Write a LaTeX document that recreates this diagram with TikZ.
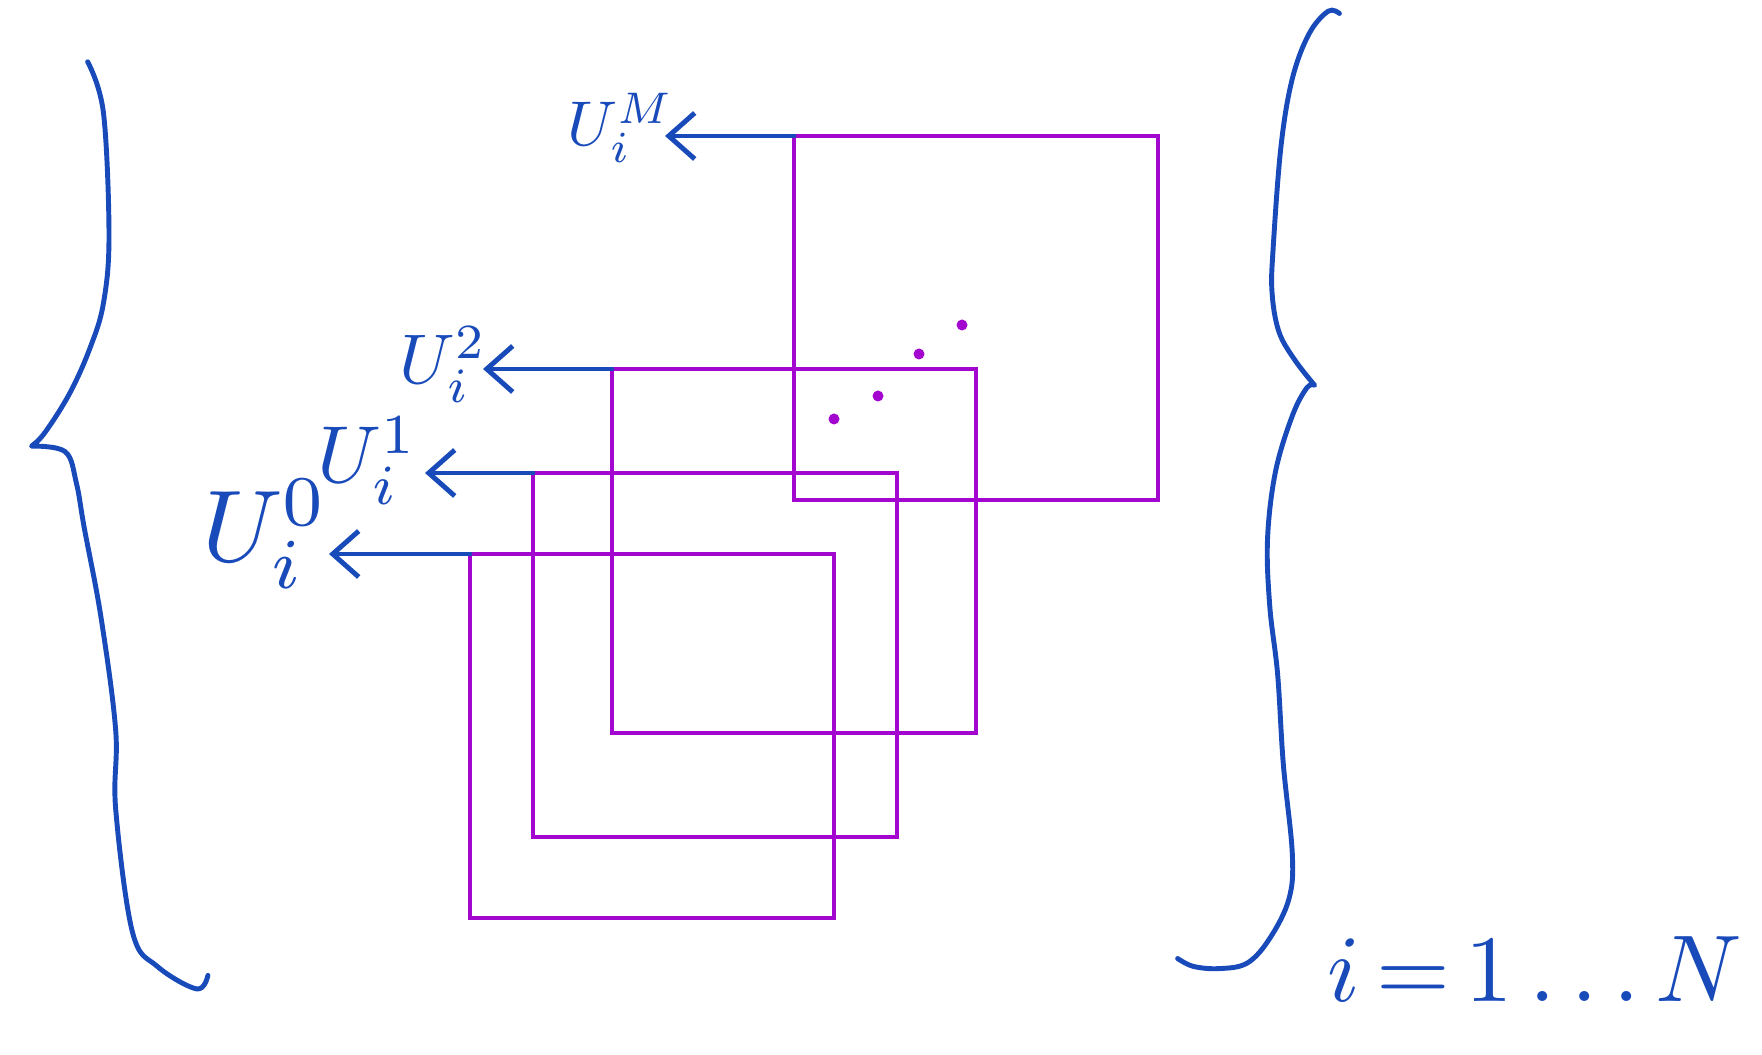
\documentclass[tikz,border=0pt]{standalone}
\usetikzlibrary{arrows.meta}
\definecolor{handblue}{RGB}{24,74,186}
\definecolor{handpurple}{RGB}{163,6,206}
\tikzset{
    sq/.style={draw=handpurple, line width=1.3pt, minimum size=3.64cm, inner sep=0pt, outer sep=0pt, anchor=north west},
    lbl/.style={text=handblue, inner sep=0pt, anchor=base west},
    arr/.style={handblue, line width=1.4pt, line cap=round, -{Straight Barb[length=2.6mm,width=4.6mm]}},
    brace/.style={handblue, line width=1.4pt, line cap=round, line join=round},
}
\begin{document}
\begin{tikzpicture}
    \useasboundingbox (0,0) rectangle (17.62,10.54);
    % the four windows, oldest at the bottom
    \foreach \n/\x/\y in {0/4.70/5.00, 1/5.33/5.81, 2/6.12/6.85, M/7.94/9.18} {
        \node[sq] (s\n) at (\x,\y) {};
    }
    % labels and arrows
    \foreach \n/\lx/\ly/\tx/\sc in {0/2.00/4.92/3.29/2.9, 1/3.16/5.71/4.25/2.3, 2/3.98/6.70/4.83/2.0, M/5.66/9.08/6.65/1.8} {
        \node[lbl, scale=\sc] (l\n) at (\lx,\ly) {$U_i^{\n}$};
        \coordinate (t\n) at (\tx,0 |- s\n.north west);
        \draw[arr] (s\n.north west) -- (t\n);
    }
    % dots between the windows
    \foreach \px/\py in {8.34/6.35, 8.78/6.58, 9.19/7.00, 9.62/7.29} {
        \fill[handpurple] (\px,\py) circle (0.055cm);
    }
    % left brace
    \draw[brace] plot[smooth, tension=0.6] coordinates {(0.876,9.922) (1.034,9.416) (1.090,8.180) (1.034,7.506) (0.899,7.057) (0.697,6.607) (0.449,6.214) (0.315,6.079)}
        -- plot[smooth, tension=0.6] coordinates {(0.315,6.079) (0.652,6.023) (0.764,5.708) (0.843,5.259) (1.011,4.360) (1.157,3.236) (1.157,2.449) (1.326,1.213) (1.573,0.876) (1.966,0.651) (2.079,0.786)};
    % right brace
    \draw[brace] plot[smooth, tension=0.6] coordinates {(13.394,10.405) (13.282,10.428) (13.091,10.203) (12.923,9.753) (12.810,9.079) (12.732,8.068) (12.720,7.618) (12.788,7.225) (12.945,6.944) (13.147,6.686)}
        -- plot[smooth, tension=0.6] coordinates {(13.147,6.686) (13.069,6.663) (12.923,6.382) (12.754,5.820) (12.675,5.146) (12.698,4.472) (12.776,3.798) (12.833,2.899) (12.923,2.000) (12.889,1.550) (12.698,1.157) (12.473,0.910) (12.192,0.854) (11.934,0.876) (11.776,0.955)};
    \node[lbl, scale=2.7] (range) at (13.26,0.52) {$i\,{=}\,1\ldots N$};
\end{tikzpicture}
\end{document}
